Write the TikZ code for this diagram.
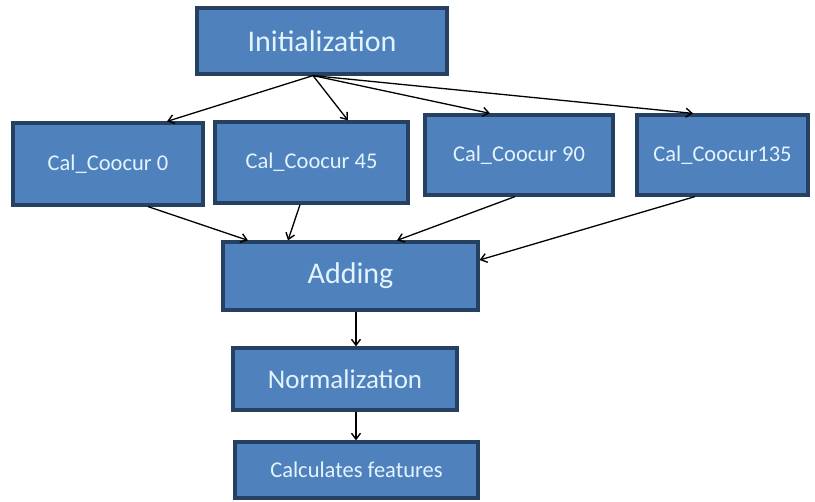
\documentclass[tikz,border=0pt]{standalone}
\usepackage{fontspec}
\setmainfont{Carlito}
\usetikzlibrary{arrows.meta}
\definecolor{boxfill}{RGB}{79,129,189}
\definecolor{boxline}{RGB}{38,64,98}
\definecolor{boxtext}{RGB}{228,244,255}
\begin{document}
\begin{tikzpicture}[x=1pt,y=-1pt,
  block/.style={draw=boxline, line width=3.2pt, fill=boxfill, text=boxtext,
    inner sep=0pt, anchor=center},
  flow/.style={draw=black, line width=1.3pt,
    -{Straight Barb[length=6pt,width=9pt,line width=1.4pt]}},
  big/.style={font=\fontsize{30}{30}\selectfont},
  mid/.style={font=\fontsize{27}{27}\selectfont},
  small/.style={font=\fontsize{22.5}{22.5}\selectfont}]
\useasboundingbox (0,0) rectangle (815,502);

% boxes
\node[block,big,minimum width=250pt,minimum height=66pt] (init) at (322,41) {Initialization};
\node[block,small,minimum width=190pt,minimum height=82pt] (c0) at (108,164) {Cal\_Coocur 0};
\node[block,small,minimum width=193pt,minimum height=81pt] (c45) at (311.5,162.5) {Cal\_Coocur 45};
\node[block,small,minimum width=188pt,minimum height=80pt] (c90) at (519,155) {Cal\_Coocur 90};
\node[block,small,minimum width=171pt,minimum height=80pt] (c135) at (722.5,155) {Cal\_Coocur135};
\node[block,big,minimum width=255pt,minimum height=68pt] (add) at (350.5,276) {Adding};
\node[block,mid,minimum width=224pt,minimum height=62pt] (norm) at (345,379) {Normalization};
\node[block,small,minimum width=243pt,minimum height=56pt] (calc) at (356.5,470) {Calculates features};

% fan-out from the initialization step
\draw[flow] ([xshift=-9pt]init.south) -- ([xshift=59pt]c0.north);
\draw[flow] ([xshift=-9pt]init.south) -- ([xshift=36.5pt]c45.north);
\draw[flow] ([xshift=-9pt]init.south) -- ([xshift=-29pt]c90.north);
\draw[flow] ([xshift=-9pt]init.south) -- ([xshift=-29.5pt]c135.north);

% fan-in to the adding step
\draw[flow] ([xshift=40pt]c0.south) -- ([xshift=-102.5pt]add.north);
\draw[flow] ([xshift=-11.5pt]c45.south) -- ([xshift=-62.5pt]add.north);
\draw[flow] ([xshift=-4pt]c90.south) -- ([xshift=46.5pt]add.north);
\draw[flow] ([xshift=-27.5pt]c135.south) -- ([yshift=16pt]add.east);

% final chain
\draw[flow] ([xshift=5.5pt]add.south) -- ([xshift=5.5pt]add.south |- norm.north);
\draw[flow] ([xshift=11pt]norm.south) -- ([xshift=11pt]norm.south |- calc.north);
\end{tikzpicture}
\end{document}
